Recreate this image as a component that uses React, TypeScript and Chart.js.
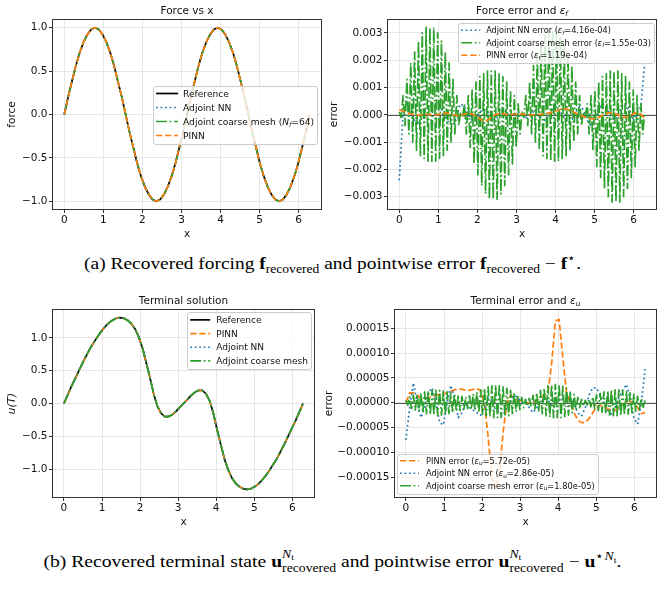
import React, { useEffect, useLayoutEffect, useRef } from "react";
import { Chart, registerables } from "chart.js";

Chart.register(...registerables);

const SANS = "'DejaVu Sans', 'Liberation Sans', sans-serif";
const SERIF = "'Liberation Serif', 'DejaVu Serif', serif";
const C_BLUE = "#1f77b4";
const C_ORANGE = "#ff7f0e";
const C_GREEN = "#2ca02c";
const C_BLACK = "#000000";
const TEXT = "#111111";
const GRID = "#e6e6e6";
const SPINE = "#333333";

// ---------------- data ----------------
const X_GRID = [0, 0.098, 0.196, 0.295, 0.393, 0.491, 0.589, 0.687, 0.785, 0.884, 0.982, 1.08, 1.178, 1.276, 1.374, 1.473, 1.571, 1.669, 1.767, 1.865, 1.963, 2.062, 2.16, 2.258, 2.356, 2.454, 2.553, 2.651, 2.749, 2.847, 2.945, 3.043, 3.142, 3.24, 3.338, 3.436, 3.534, 3.632, 3.731, 3.829, 3.927, 4.025, 4.123, 4.221, 4.32, 4.418, 4.516, 4.614, 4.712, 4.811, 4.909, 5.007, 5.105, 5.203, 5.301, 5.4, 5.498, 5.596, 5.694, 5.792, 5.89, 5.989, 6.087, 6.185, 6.283];
const X_TICKS = [0, 1, 2, 3, 4, 5, 6];
const X_MIN = -0.314;
const X_MAX = 6.597;

const FORCE_REF = [0, 0.2, 0.38, 0.56, 0.71, 0.83, 0.92, 0.98, 1, 0.98, 0.92, 0.83, 0.71, 0.56, 0.38, 0.2, 0,
  -0.2, -0.38, -0.56, -0.71, -0.83, -0.92, -0.98, -1, -0.98, -0.92, -0.83, -0.71, -0.56, -0.38, -0.2, 0,
  0.2, 0.38, 0.56, 0.71, 0.83, 0.92, 0.98, 1, 0.98, 0.92, 0.83, 0.71, 0.56, 0.38, 0.2, 0,
  -0.2, -0.38, -0.56, -0.71, -0.83, -0.92, -0.98, -1, -0.98, -0.92, -0.83, -0.71, -0.56, -0.38, -0.2, 0];
const FORCE_TICKS = [-1, -0.5, 0, 0.5, 1];

// force errors, in units of 1e-4
const F_ERR_UNIT = 1e-4;
const F_ERR_NN = [-24, 1, 4, 1, -2, -3, -1, 2, 3, 4, 4, 2, -1, -3, -4, 0, 4, 3, 0, -2, -1, 1, 2, 1, -1, -2, 0, 2, 1, -1, 0, 1, 0, -1, 0, 1, 0, -1, -2, 0, 2, 3, 1, -1, -3, -2, 1, 3, 2, -2, -4, -2, 2, 4, 3, 0, -2, 0, 3, 4, 1, -2, 1, 3, 19];
// coarse-mesh error oscillates between these two envelopes (tops of stripes / bottoms of stripes)
const F_ERR_COARSE_TOP = [1, 7, 13, 19, 23, 27, 30, 32, 32, 32, 30, 27, 23, 19, 13, 7, 1,
  4, 7, 9, 12, 14, 15, 16, 16, 16, 15, 14, 12, 9, 7, 4, 1,
  7, 12, 18, 22, 26, 29, 31, 31, 31, 29, 26, 22, 18, 12, 7, 1,
  4, 7, 9, 12, 14, 15, 16, 16, 16, 15, 14, 12, 9, 7, 4, 1];
const F_ERR_COARSE_BOTTOM = [-1, -4, -7, -10, -13, -15, -16, -17, -17, -17, -16, -15, -13, -10, -7, -4, -1,
  -7, -12, -18, -22, -26, -29, -31, -31, -31, -29, -26, -22, -18, -12, -7, -1,
  -4, -7, -10, -13, -15, -16, -17, -17, -17, -16, -15, -13, -10, -7, -4, -1,
  -7, -13, -19, -23, -27, -30, -32, -32, -32, -30, -27, -23, -19, -13, -7, -1];
const F_ERR_PINN = [1.8, 1.4, 0.8, 0.3, 0, -0.1, 0, 0.1, 0.1, 0, 0, 0.4, 0.6, 0.4, 0, -0.3, -0.2, 0.2, 0.5, 0.3, -0.5, -1.5, -2.3, -2, -1, 0, 0.5, 0.4, 0.1, 0, 0.2, 0.4, 0.3, 0.1, 0, 0, 0.1, 0.2, 0.3, 0.6, 1, 1.5, 2, 2.3, 2, 1.3, 0.6, 0, -0.6, -1.1, -1.4, -1.5, -1, -0.2, 0.5, 0.8, 0.6, 0, -0.8, -1, -0.4, 0.4, 0.8, 0.2, -1.5];
const F_ERR_TICKS = [-0.003, -0.002, -0.001, 0, 0.001, 0.002, 0.003];

const U_REF = [0, 0.13, 0.26, 0.38, 0.5, 0.62, 0.73, 0.84, 0.93, 1.02, 1.1, 1.17, 1.23, 1.27, 1.3, 1.31, 1.3, 1.27, 1.22, 1.14, 1.02, 0.85, 0.63, 0.4, 0.15, -0.04, -0.15, -0.2, -0.2, -0.17, -0.12, -0.06, 0,
  0.06, 0.12, 0.17, 0.2, 0.2, 0.15, 0.04, -0.15, -0.4, -0.63, -0.85, -1.02, -1.14, -1.22, -1.27, -1.3, -1.31, -1.3, -1.27, -1.23, -1.17, -1.1, -1.02, -0.93, -0.84, -0.73, -0.62, -0.5, -0.38, -0.26, -0.13, 0];
const U_TICKS = [-1, -0.5, 0, 0.5, 1];

// terminal errors, in units of 1e-5
const U_ERR_UNIT = 1e-5;
const U_ERR_PINN = [0, 2, 2, 1.5, 1, 1, 1, 1.2, 1.5, 1.7, 1.8, 2, 2.3, 2.6, 2.8, 2.7, 2.5, 2.5, 2.7, 2.8, 2.5, 0, -7, -15, -17.5, -14, -6, 0, 1.5, 1, 0.5, 0.3, 0, 0, 0, 0.5, 1, 1.5, 2, 8, 16.5, 16.8, 9, 2, 0, -2, -3.5, -4, -4, -3.2, -2, -0.8, -0.5, -0.8, -1.2, -1.5, -1.5, -1, -0.3, 0, 0.3, 0, -1, -2.2, -2];
const U_ERR_NN = [-7.5, -1, 4, 0, -3, -1, 2, 3, 0, -4, -4.5, 0, 3.5, 1, -3, -2, 0, -1, -1.5, -2, -2.5, -1, 1, 0.5, -1.5, -2, -2.5, -1, 0.5, 1.5, 1, 0, 0, -1, -2, -1, 0, 1, 0.5, -0.5, 0, 0.5, 1, 1.5, 1, -0.5, -2, -2.7, -1, 1.5, 3, 3, 1.5, 0, -1.5, -2.3, -1, 1, 2.5, 3.7, 1, -3, -4.3, 0, 6.8];
const U_ERR_COARSE_TOP = [0.5, 1.2, 1.5, 1.7, 2, 2.2, 2.4, 2.5, 2.5, 2.5, 2.4, 2.2, 2, 1.8, 1.6, 1.3, 1.2, 1.4, 1.8, 2.2, 2.6, 2.9, 3.2, 3.4, 3.5, 3.4, 3.2, 2.9, 2.5, 2.1, 1.6, 1.1, 0.7, 0.9, 1.5, 2, 2.5, 3, 3.4, 3.6, 3.7, 3.6, 3.3, 2.9, 2.3, 1.7, 1.1, 0.7, 0.5, 0.8, 1.2, 1.6, 1.9, 2.2, 2.5, 2.6, 2.6, 2.6, 2.5, 2.3, 2, 1.7, 1.3, 0.9, 0.5];
const U_ERR_COARSE_BOTTOM = [-0.5, -1.2, -1.5, -1.7, -2, -2.2, -2.4, -2.5, -2.5, -2.5, -2.4, -2.2, -2, -1.8, -1.6, -1.3, -1.2, -1.3, -1.6, -2, -2.3, -2.6, -2.8, -3, -3, -3, -2.8, -2.6, -2.2, -1.8, -1.4, -1, -0.7, -0.8, -1.3, -1.8, -2.2, -2.6, -2.9, -3, -3, -3, -2.8, -2.5, -2, -1.5, -1, -0.7, -0.5, -0.8, -1.2, -1.6, -1.9, -2.2, -2.5, -2.6, -2.6, -2.6, -2.5, -2.3, -2, -1.7, -1.3, -0.9, -0.5];
const U_ERR_TICKS = [-0.00015, -0.0001, -0.00005, 0, 0.00005, 0.0001, 0.00015];

// ---------------- helpers ----------------
type Seg = { t: string; it?: boolean; sub?: boolean };
type Series = { label: string; xs: number[]; ys: number[]; color: string; dash: number[]; width: number };
type LegendSpec = {
  entries: { segs: Seg[]; idx: number }[];
  size: number; rowH: number; handle: number; gap: number; padX: number; padY: number;
  place: "cr" | "ur" | "ll"; dx: number; dy: number;
};
type PanelSpec = {
  left: number; top: number; w: number; h: number;
  area: { l: number; t: number; r: number; b: number };
  yMin: number; yMax: number; yTicks: number[]; yDec: number;
  yTitle: string; yItalic: boolean; yTitleC: number;
  title: Seg[]; series: Series[]; legend: LegendSpec; zero: boolean;
};

const LW = 1.7;
const dash = (kind: string): number[] => {
  if (kind === "dashed") return [3.7 * LW, 1.6 * LW];
  if (kind === "dotted") return [1 * LW, 1.65 * LW];
  if (kind === "dashdot") return [6.4 * LW, 1.6 * LW, 1 * LW, 1.6 * LW];
  return [];
};
const scaled = (arr: number[], unit: number) => arr.map((v) => v * unit);
const plus = (base: number[], err: number[], unit: number) => base.map((b, i) => b + err[i] * unit);
const fmt = (v: number, d: number) => (v < 0 ? "\u2212" : "") + Math.abs(v).toFixed(d);

// stripes: top value at each grid node, bottom value half-way to the next node
function stripes(top: number[], bottom: number[], unit: number) {
  const xs: number[] = [];
  const ys: number[] = [];
  for (let k = 0; k < X_GRID.length; k++) {
    xs.push(X_GRID[k]);
    ys.push(top[k] * unit);
    if (k < X_GRID.length - 1) {
      xs.push((X_GRID[k] + X_GRID[k + 1]) / 2);
      ys.push(bottom[k] * unit);
    }
  }
  return { xs, ys };
}

const segFont = (size: number, s: Seg) => `${s.it ? "italic " : ""}${s.sub ? size * 0.7 : size}px ${SANS}`;
function measureRich(ctx: CanvasRenderingContext2D, segs: Seg[], size: number) {
  let w = 0;
  for (const s of segs) { ctx.font = segFont(size, s); w += ctx.measureText(s.t).width; }
  return w;
}
function drawRich(ctx: CanvasRenderingContext2D, segs: Seg[], x: number, baseline: number, size: number) {
  let cx = x;
  ctx.textBaseline = "alphabetic";
  ctx.textAlign = "left";
  ctx.fillStyle = TEXT;
  for (const s of segs) {
    ctx.font = segFont(size, s);
    ctx.fillText(s.t, cx, baseline + (s.sub ? size * 0.2 : 0));
    cx += ctx.measureText(s.t).width;
  }
}

const XAXIS_H = 31;

function buildConfig(s: PanelSpec): any {
  const n = s.series.length;
  const datasets = s.series.map((se, k) => ({
    label: se.label,
    data: se.xs.map((x, i) => ({ x, y: se.ys[i] })),
    borderColor: se.color,
    borderWidth: se.width,
    borderDash: se.dash,
    borderCapStyle: "butt",
    borderJoinStyle: "round",
    pointRadius: 0,
    pointHoverRadius: 0,
    fill: false,
    tension: 0,
    order: n - k,
  }));
  const tickFont = { family: SANS, size: 10.5, lineHeight: 1.2 };
  const decor = {
    id: "decor",
    beforeDatasetsDraw(chart: any) {
      if (!s.zero) return;
      const { ctx, chartArea: a } = chart;
      const y = Math.round(chart.scales.y.getPixelForValue(0)) + 0.5;
      ctx.save();
      ctx.strokeStyle = "#555555";
      ctx.lineWidth = 1;
      ctx.beginPath();
      ctx.moveTo(a.left, y);
      ctx.lineTo(a.right, y);
      ctx.stroke();
      ctx.restore();
    },
    afterDraw(chart: any) {
      const { ctx, chartArea: a } = chart;
      ctx.save();
      ctx.strokeStyle = SPINE;
      ctx.lineWidth = 1;
      ctx.setLineDash([]);
      ctx.strokeRect(a.left + 0.5, a.top + 0.5, a.right - a.left - 1, a.bottom - a.top - 1);
      const tw = measureRich(ctx, s.title, 10.5);
      drawRich(ctx, s.title, (a.left + a.right) / 2 - tw / 2, a.top - 8.5 + 3.8, 10.5);
      const L = s.legend;
      const F = L.size;
      const textW = Math.max(...L.entries.map((e) => measureRich(ctx, e.segs, F)));
      const bw = L.padX * 2 + L.handle + L.gap + textW;
      const bh = L.padY * 2 + L.entries.length * L.rowH;
      let bx = 0, by = 0;
      if (L.place === "cr") { bx = a.right - L.dx - bw; by = (a.top + a.bottom) / 2 - bh / 2; }
      else if (L.place === "ur") { bx = a.right - L.dx - bw; by = a.top + L.dy; }
      else { bx = a.left + L.dx; by = a.bottom - L.dy - bh; }
      ctx.beginPath();
      (ctx as any).roundRect(Math.round(bx) + 0.5, Math.round(by) + 0.5, Math.round(bw), Math.round(bh), 2.5);
      ctx.fillStyle = "rgba(255,255,255,0.8)";
      ctx.fill();
      ctx.strokeStyle = "#cccccc";
      ctx.lineWidth = 1;
      ctx.stroke();
      L.entries.forEach((e, i) => {
        const cy = by + L.padY + (i + 0.5) * L.rowH;
        const se = s.series[e.idx];
        ctx.save();
        ctx.beginPath();
        ctx.setLineDash(se.dash);
        ctx.lineDashOffset = 0;
        ctx.strokeStyle = se.color;
        ctx.lineWidth = se.width;
        ctx.lineCap = "butt";
        ctx.moveTo(bx + L.padX, cy);
        ctx.lineTo(bx + L.padX + L.handle, cy);
        ctx.stroke();
        ctx.restore();
        drawRich(ctx, e.segs, bx + L.padX + L.handle + L.gap, cy + 0.36 * F, F);
      });
      ctx.restore();
    },
  };
  return {
    type: "line",
    data: { datasets },
    options: {
      animation: false,
      responsive: false,
      maintainAspectRatio: false,
      devicePixelRatio: 1,
      events: [],
      layout: { padding: { left: 0, top: s.area.t, right: s.w - s.area.r, bottom: s.h - s.area.b - XAXIS_H } },
      plugins: { legend: { display: false }, tooltip: { enabled: false }, title: { display: false } },
      scales: {
        x: {
          type: "linear", position: "bottom", min: X_MIN, max: X_MAX, bounds: "data",
          afterBuildTicks: (sc: any) => { sc.ticks = X_TICKS.map((v) => ({ value: v })); },
          afterFit: (sc: any) => { sc.height = XAXIS_H; },
          ticks: { font: tickFont, color: TEXT, padding: 1, maxRotation: 0, minRotation: 0, autoSkip: false, callback: (v: any) => fmt(Number(v), 0) },
          grid: { color: GRID, lineWidth: 1, tickColor: SPINE, tickLength: 3, drawTicks: true },
          border: { display: false },
          title: { display: true, text: "x", font: { family: SANS, size: 10.5, lineHeight: 1.2 }, color: TEXT, padding: { top: 0, bottom: 0 } },
        },
        y: {
          type: "linear", position: "left", min: s.yMin, max: s.yMax, bounds: "data",
          afterBuildTicks: (sc: any) => { sc.ticks = s.yTicks.map((v) => ({ value: v })); },
          afterFit: (sc: any) => { sc.width = s.area.l; },
          ticks: { font: tickFont, color: TEXT, padding: 1.5, autoSkip: false, callback: (v: any) => fmt(Number(v), s.yDec) },
          grid: { color: GRID, lineWidth: 1, tickColor: SPINE, tickLength: 3, drawTicks: true },
          border: { display: false },
          title: { display: true, text: s.yTitle, font: { family: SANS, size: 10.5, lineHeight: 1.2, style: s.yItalic ? "italic" : "normal" }, color: TEXT, padding: { top: s.yTitleC - 6.3, bottom: 0 } },
        },
      },
    },
    plugins: [decor],
  };
}

function Panel({ spec }: { spec: PanelSpec }) {
  const ref = useRef<HTMLCanvasElement>(null);
  useEffect(() => {
    if (!ref.current) return;
    const chart = new Chart(ref.current, buildConfig(spec));
    return () => chart.destroy();
  }, [spec]);
  return (
    <canvas
      ref={ref}
      width={spec.w}
      height={spec.h}
      style={{ position: "absolute", left: spec.left, top: spec.top, width: spec.w, height: spec.h, display: "block" }}
    />
  );
}

const Sub = ({ children }: { children: React.ReactNode }) => (
  <span style={{ fontSize: "0.7em", position: "relative", top: "0.3em", lineHeight: 1 }}>{children}</span>
);
const Sup = ({ children }: { children: React.ReactNode }) => (
  <span style={{ fontSize: "0.7em", position: "relative", top: "-0.55em", lineHeight: 1 }}>{children}</span>
);
const Nt = () => (
  <span><i>N</i><span style={{ fontSize: "0.72em", position: "relative", top: "0.25em" }}>t</span></span>
);
const Scripts = ({ sup, sub }: { sup: React.ReactNode; sub: React.ReactNode }) => (
  <span style={{ position: "relative", display: "inline-block", fontSize: "0.7em", lineHeight: 1 }}>
    <span style={{ position: "relative", top: "0.4em" }}>{sub}</span>
    <span style={{ position: "absolute", left: 0, top: "-0.75em" }}>{sup}</span>
  </span>
);

function Caption({ cx, top, width, children }: { cx: number; top: number; width: number; children: React.ReactNode }) {
  const ref = useRef<HTMLDivElement>(null);
  useLayoutEffect(() => {
    const el = ref.current;
    if (!el) return;
    el.style.transform = "none";
    const r = el.getBoundingClientRect();
    el.style.left = `${cx - r.width / 2}px`;
    el.style.transform = `scaleX(${width / r.width})`;
  }, [cx, width]);
  return (
    <div
      ref={ref}
      style={{ position: "absolute", top, left: 0, whiteSpace: "nowrap", fontFamily: SERIF, fontSize: 17, lineHeight: "22px", color: "#000", transformOrigin: "50% 50%" }}
    >
      {children}
    </div>
  );
}

const eps = (sub: string): Seg[] => [{ t: "\u03b5", it: true }, { t: sub, it: true, sub: true }];

const F_COARSE = stripes(F_ERR_COARSE_TOP, F_ERR_COARSE_BOTTOM, F_ERR_UNIT);
const U_COARSE = stripes(U_ERR_COARSE_TOP, U_ERR_COARSE_BOTTOM, U_ERR_UNIT);

const PANELS: PanelSpec[] = [
  {
    left: 0, top: 0, w: 332, h: 245,
    area: { l: 52, t: 19, r: 322, b: 210 },
    yMin: -1.1, yMax: 1.1, yTicks: FORCE_TICKS, yDec: 1,
    yTitle: "force", yItalic: false, yTitleC: 12,
    title: [{ t: "Force vs x" }],
    zero: false,
    series: [
      { label: "Reference", xs: X_GRID, ys: FORCE_REF, color: C_BLACK, dash: dash("solid"), width: LW },
      { label: "Adjoint NN", xs: X_GRID, ys: plus(FORCE_REF, F_ERR_NN, F_ERR_UNIT), color: C_BLUE, dash: dash("dotted"), width: LW },
      { label: "Adjoint coarse mesh", xs: X_GRID, ys: FORCE_REF, color: C_GREEN, dash: dash("dashdot"), width: LW },
      { label: "PINN", xs: X_GRID, ys: plus(FORCE_REF, F_ERR_PINN, F_ERR_UNIT), color: C_ORANGE, dash: dash("dashed"), width: LW },
    ],
    legend: {
      entries: [
        { segs: [{ t: "Reference" }], idx: 0 },
        { segs: [{ t: "Adjoint NN" }], idx: 1 },
        { segs: [{ t: "Adjoint coarse mesh (" }, { t: "N", it: true }, { t: "f", it: true, sub: true }, { t: "=64)" }], idx: 2 },
        { segs: [{ t: "PINN" }], idx: 3 },
      ],
      size: 9.1, rowH: 14, handle: 22, gap: 5, padX: 3, padY: 1, place: "cr", dx: 5, dy: 0,
    },
  },
  {
    left: 322, top: 0, w: 342, h: 245,
    area: { l: 65, t: 19, r: 335, b: 210 },
    yMin: -0.00349, yMax: 0.00351, yTicks: F_ERR_TICKS, yDec: 3,
    yTitle: "error", yItalic: false, yTitleC: 12,
    title: [{ t: "Force error and " }, ...eps("f")],
    zero: true,
    series: [
      { label: "Adjoint NN error", xs: X_GRID, ys: scaled(F_ERR_NN, F_ERR_UNIT), color: C_BLUE, dash: dash("dotted"), width: LW },
      { label: "Adjoint coarse mesh error", xs: F_COARSE.xs, ys: F_COARSE.ys, color: C_GREEN, dash: dash("dashdot"), width: LW },
      { label: "PINN error", xs: X_GRID, ys: scaled(F_ERR_PINN, F_ERR_UNIT), color: C_ORANGE, dash: dash("dashed"), width: LW },
    ],
    legend: {
      entries: [
        { segs: [{ t: "Adjoint NN error (" }, ...eps("f"), { t: "=4.16e-04)" }], idx: 0 },
        { segs: [{ t: "Adjoint coarse mesh error (" }, ...eps("f"), { t: "=1.55e-03)" }], idx: 1 },
        { segs: [{ t: "PINN error (" }, ...eps("f"), { t: "=1.19e-04)" }], idx: 2 },
      ],
      size: 8.2, rowH: 12.5, handle: 19, gap: 6, padX: 3, padY: 1, place: "ur", dx: 3, dy: 4,
    },
  },
  {
    left: 0, top: 285, w: 332, h: 245,
    area: { l: 52, t: 24, r: 315, b: 213 },
    yMin: -1.441, yMax: 1.441, yTicks: U_TICKS, yDec: 1,
    yTitle: "u(T)", yItalic: true, yTitleC: 12,
    title: [{ t: "Terminal solution" }],
    zero: false,
    series: [
      { label: "Reference", xs: X_GRID, ys: U_REF, color: C_BLACK, dash: dash("solid"), width: LW },
      { label: "PINN", xs: X_GRID, ys: plus(U_REF, U_ERR_PINN, U_ERR_UNIT), color: C_ORANGE, dash: dash("dashed"), width: LW },
      { label: "Adjoint NN", xs: X_GRID, ys: plus(U_REF, U_ERR_NN, U_ERR_UNIT), color: C_BLUE, dash: dash("dotted"), width: LW },
      { label: "Adjoint coarse mesh", xs: X_GRID, ys: U_REF, color: C_GREEN, dash: dash("dashdot"), width: LW },
    ],
    legend: {
      entries: [
        { segs: [{ t: "Reference" }], idx: 0 },
        { segs: [{ t: "PINN" }], idx: 1 },
        { segs: [{ t: "Adjoint NN" }], idx: 2 },
        { segs: [{ t: "Adjoint coarse mesh" }], idx: 3 },
      ],
      size: 9, rowH: 13.7, handle: 20, gap: 6, padX: 3, padY: 1, place: "ur", dx: 4, dy: 3,
    },
  },
  {
    left: 320, top: 285, w: 344, h: 245,
    area: { l: 74, t: 24, r: 337, b: 213 },
    yMin: -0.000192, yMax: 0.000189, yTicks: U_ERR_TICKS, yDec: 5,
    yTitle: "error", yItalic: false, yTitleC: 9,
    title: [{ t: "Terminal error and " }, ...eps("u")],
    zero: true,
    series: [
      { label: "PINN error", xs: X_GRID, ys: scaled(U_ERR_PINN, U_ERR_UNIT), color: C_ORANGE, dash: dash("dashed"), width: LW },
      { label: "Adjoint NN error", xs: X_GRID, ys: scaled(U_ERR_NN, U_ERR_UNIT), color: C_BLUE, dash: dash("dotted"), width: LW },
      { label: "Adjoint coarse mesh error", xs: U_COARSE.xs, ys: U_COARSE.ys, color: C_GREEN, dash: dash("dashdot"), width: LW },
    ],
    legend: {
      entries: [
        { segs: [{ t: "PINN error (" }, ...eps("u"), { t: "=5.72e-05)" }], idx: 0 },
        { segs: [{ t: "Adjoint NN error (" }, ...eps("u"), { t: "=2.86e-05)" }], idx: 1 },
        { segs: [{ t: "Adjoint coarse mesh error (" }, ...eps("u"), { t: "=1.80e-05)" }], idx: 2 },
      ],
      size: 8.3, rowH: 12.5, handle: 19, gap: 7, padX: 3, padY: 1, place: "ll", dx: 3, dy: 5,
    },
  },
];

export default function App() {
  return (
    <div style={{ position: "fixed", left: 0, top: 0, width: 664, height: 590, background: "#ffffff", overflow: "hidden" }}>
      {PANELS.map((p, i) => (
        <Panel key={i} spec={p} />
      ))}
      <Caption cx={333} top={253} width={497}>
        (a) Recovered forcing <b>f</b><Sub>recovered</Sub> and pointwise error <b>f</b><Sub>recovered</Sub> {"\u2212"} <b>f</b><Sup>{"\u22c6"}</Sup>.
      </Caption>
      <Caption cx={332} top={551} width={578}>
        (b) Recovered terminal state <b>u</b><Scripts sup={<Nt />} sub="recovered" /> and pointwise error <b>u</b><Scripts sup={<Nt />} sub="recovered" /> {"\u2212"} <b>u</b><Sup>{"\u22c6"}<Nt /></Sup>.
      </Caption>
    </div>
  );
}
